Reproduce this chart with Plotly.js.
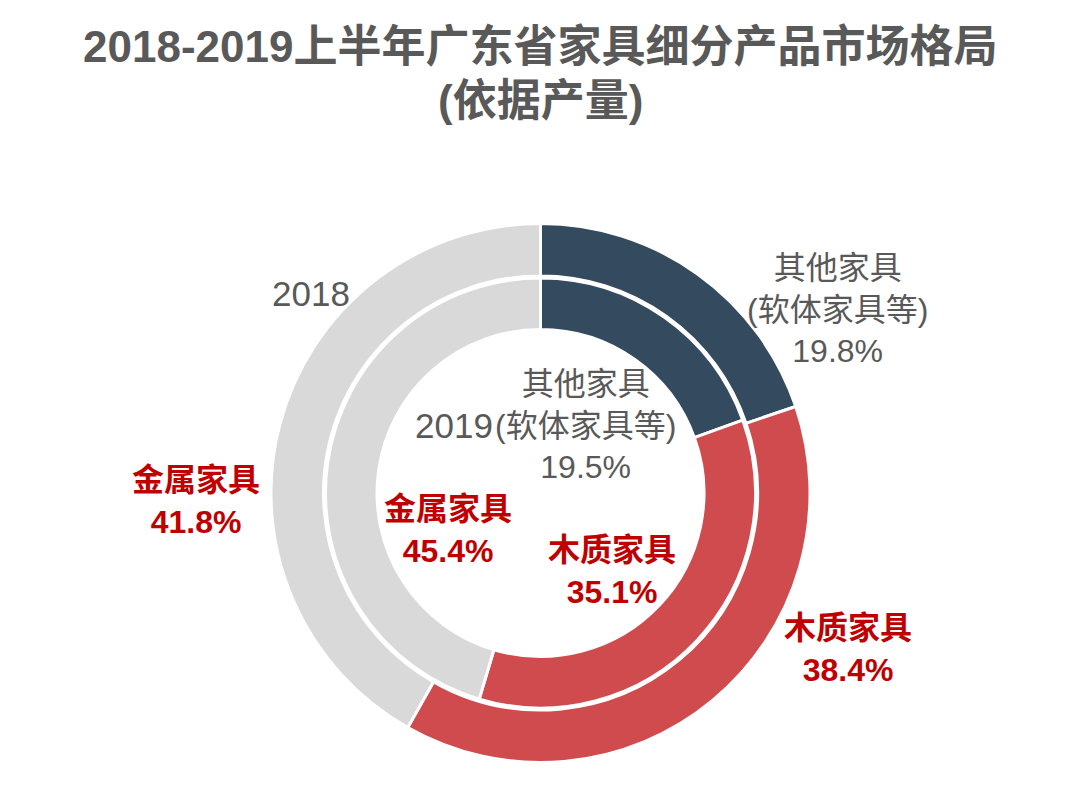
<!DOCTYPE html>
<html>
<head>
<meta charset="utf-8">
<script src="https://cdn.plot.ly/plotly-3.0.1.min.js"></script>
<style>
html,body{margin:0;padding:0;background:#fff;}
#chart{width:1080px;height:810px;}
</style>
</head>
<body>
<div id="chart"></div>
<script>
// ---- data ----
var categories = ['其他家具', '木质家具', '金属家具'];
var subNote = '(软体家具等)';
var years = ['2018', '2019'];
var values2018 = [19.8, 38.4, 41.8];
var values2019 = [19.5, 35.1, 45.4];
var titleText = '2018-2019上半年广东省家具细分产品市场格局';
var subtitleText = '(依据产量)';

// ---- layout / style ----
var W = 1080, H = 810;
var cx = 540.5, cyB = 317; // center in px (y from bottom)
function dom(r) {
  return {x: [(cx - r) / W, (cx + r) / W], y: [(cyB - r) / H, (cyB + r) / H]};
}
var colors = ['#344a5f', '#cf4b4d', '#d9d9d9'];
var FONT = 'Liberation Sans, Noto Sans CJK SC, sans-serif';
var gray = '#595959', red = '#c00000';

var outerR = 269.5, outerHole = 217;
var innerR = 215, innerHole = 163.5;

var traces = [
  {
    type: 'pie', labels: categories, values: values2018,
    sort: false, direction: 'clockwise', rotation: 0,
    hole: outerHole / outerR, domain: dom(outerR),
    marker: {colors: colors, line: {color: '#ffffff', width: 3}},
    textinfo: 'none', hoverinfo: 'label+percent', showlegend: false
  },
  {
    type: 'pie', labels: categories, values: values2019,
    sort: false, direction: 'clockwise', rotation: 0,
    hole: innerHole / innerR, domain: dom(innerR),
    marker: {colors: colors, line: {color: '#ffffff', width: 3}},
    textinfo: 'none', hoverinfo: 'label+percent', showlegend: false
  }
];

function pct(v) { return v.toFixed(1) + '%'; }
function ann(text, px, py, color, bold, xanchor, size) {
  return {
    xref: 'paper', yref: 'paper', x: px / W, y: 1 - py / H,
    xanchor: xanchor || 'center', yanchor: 'middle', showarrow: false,
    align: 'center',
    text: bold ? '<b>' + text + '</b>' : text,
    font: {family: FONT, size: size || 32, color: color}
  };
}

var annotations = [
  ann(titleText, 540, 47, gray, true, 'center', 44),
  ann(subtitleText, 540, 100, gray, true, 'center', 44),
  ann(categories[0] + '<br>' + subNote + '<br>' + pct(values2018[0]), 837, 310, gray, false),
  ann(categories[0] + '<br>' + subNote + '<br>' + pct(values2019[0]), 585, 425, gray, false),
  ann(years[1], 495, 425, gray, false, 'right', 35),
  ann(years[0], 311, 293, gray, false, 'center', 35),
  ann(categories[2] + '<br>' + pct(values2018[2]), 196, 501, red, true),
  ann(categories[2] + '<br>' + pct(values2019[2]), 448, 530, red, true),
  ann(categories[1] + '<br>' + pct(values2019[1]), 612, 571, red, true),
  ann(categories[1] + '<br>' + pct(values2018[1]), 848, 649, red, true)
];

var layout = {
  width: W, height: H,
  margin: {l: 0, r: 0, t: 0, b: 0},
  paper_bgcolor: '#ffffff', plot_bgcolor: '#ffffff',
  showlegend: false,
  annotations: annotations
};

Plotly.newPlot('chart', traces, layout, {displayModeBar: false, staticPlot: true});
</script>
</body>
</html>
